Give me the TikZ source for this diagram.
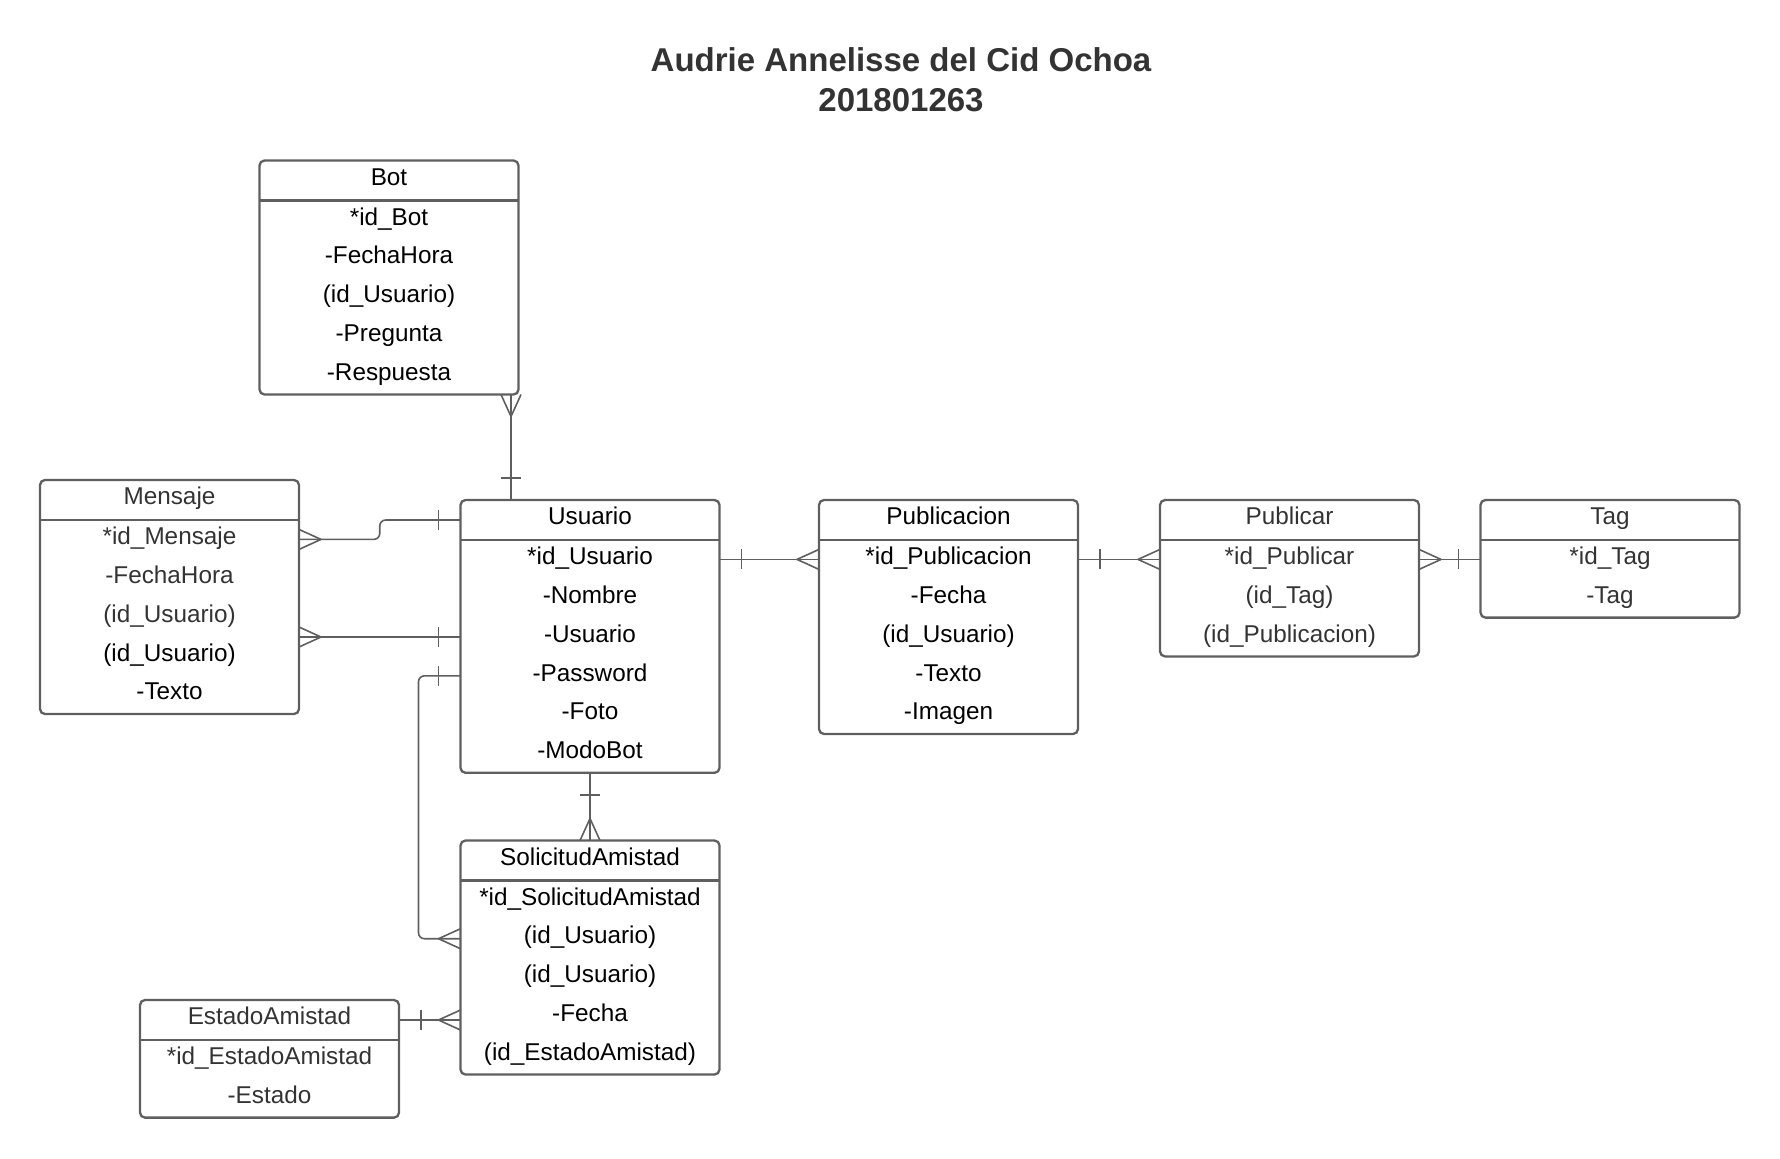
\documentclass[tikz,border=0pt]{standalone}
\usepackage{fontspec}
\setmainfont{Liberation Sans}
\usetikzlibrary{positioning, calc}
\definecolor{boxline}{HTML}{5F5F5F}
\definecolor{txtgray}{HTML}{333333}
\tikzstyle{entity}=[
  draw=boxline,
  line width=1.15pt,
  rounded corners=2.5pt,
  minimum width=129.5pt,
  inner sep=0pt,
  outer sep=0pt,
  anchor=north west
]
\tikzstyle{head}=[
  minimum width=129.5pt,
  minimum height=20pt,
  inner sep=0pt,
  outer sep=0pt,
  anchor=north west,
  text height=8.7pt,
  text depth=4.2pt,
  font={\fontsize{12.15}{14}\selectfont}
]
\tikzstyle{row}=[
  inner sep=0pt,
  text height=8.7pt,
  text depth=3.5pt,
  font={\fontsize{12.15}{14}\selectfont}
]
\tikzstyle{divider}=[draw=boxline, line width=1.15pt]
\tikzstyle{conn}=[draw=boxline, line width=0.8pt]
\tikzset{
  many/.pic={\draw[conn] (22,0) -- (0,10) (22,0) -- (0,-10);},
  one/.pic={\draw[conn] (22,-10) -- (22,10);}
}

\begin{document}
\begin{tikzpicture}[x=0.5pt, y=-0.5pt]

\useasboundingbox (0,0) rectangle (1780,1158);

\newcommand\RH{38.8}

\node[align=center, text=txtgray, font={\fontsize{16.5}{20}\selectfont\bfseries}] (titulo) at (901,80)
  {Audrie Annelisse del Cid Ochoa\\201801263};

%% Bot
\node[entity, minimum height=117pt] (bot) at (259.5,160.5) {};
\node[head] (bot-h) at (bot.north west) {Bot};
\draw[divider] (bot-h.south west) -- (bot-h.south east);
\foreach \t [count=\i] in {*id\_Bot, -FechaHora, (id\_Usuario), -Pregunta, -Respuesta}
  \node[row] (bot-\i) at ($(bot-h.south)+(0,{(\i-0.5)*\RH})$) {\t};

%% Mensaje
\node[entity, minimum height=117pt] (mensaje) at (40,480) {};
\node[head, text=txtgray] (mensaje-h) at (mensaje.north west) {Mensaje};
\draw[divider] (mensaje-h.south west) -- (mensaje-h.south east);
\foreach \t/\c [count=\i] in {*id\_Mensaje/txtgray, -FechaHora/txtgray, (id\_Usuario)/txtgray, (id\_Usuario)/black, -Texto/black}
  \node[row, text=\c] (mensaje-\i) at ($(mensaje-h.south)+(0,{(\i-0.5)*\RH})$) {\t};

%% Usuario
\node[entity, minimum height=136.4pt] (usuario) at (460.5,500) {};
\node[head] (usuario-h) at (usuario.north west) {Usuario};
\draw[divider] (usuario-h.south west) -- (usuario-h.south east);
\foreach \t [count=\i] in {*id\_Usuario, -Nombre, -Usuario, -Password, -Foto, -ModoBot}
  \node[row] (usuario-\i) at ($(usuario-h.south)+(0,{(\i-0.5)*\RH})$) {\t};

%% Publicacion
\node[entity, minimum height=117pt] (publicacion) at (819,500) {};
\node[head] (publicacion-h) at (publicacion.north west) {Publicacion};
\draw[divider] (publicacion-h.south west) -- (publicacion-h.south east);
\foreach \t [count=\i] in {*id\_Publicacion, -Fecha, (id\_Usuario), -Texto, -Imagen}
  \node[row] (publicacion-\i) at ($(publicacion-h.south)+(0,{(\i-0.5)*\RH})$) {\t};

%% Publicar
\node[entity, minimum height=78.2pt] (publicar) at (1160,500) {};
\node[head, text=txtgray] (publicar-h) at (publicar.north west) {Publicar};
\draw[divider] (publicar-h.south west) -- (publicar-h.south east);
\foreach \t [count=\i] in {*id\_Publicar, (id\_Tag), (id\_Publicacion)}
  \node[row, text=txtgray] (publicar-\i) at ($(publicar-h.south)+(0,{(\i-0.5)*\RH})$) {\t};

%% Tag
\node[entity, minimum height=58.8pt] (tag) at (1480.5,500) {};
\node[head, text=txtgray] (tag-h) at (tag.north west) {Tag};
\draw[divider] (tag-h.south west) -- (tag-h.south east);
\foreach \t [count=\i] in {*id\_Tag, -Tag}
  \node[row, text=txtgray] (tag-\i) at ($(tag-h.south)+(0,{(\i-0.5)*\RH})$) {\t};

%% SolicitudAmistad
\node[entity, minimum height=117pt] (solicitud) at (460.5,840.5) {};
\node[head] (solicitud-h) at (solicitud.north west) {SolicitudAmistad};
\draw[divider] (solicitud-h.south west) -- (solicitud-h.south east);
\foreach \t [count=\i] in {*id\_SolicitudAmistad, (id\_Usuario), (id\_Usuario), -Fecha, (id\_EstadoAmistad)}
  \node[row] (solicitud-\i) at ($(solicitud-h.south)+(0,{(\i-0.5)*\RH})$) {\t};

%% EstadoAmistad
\node[entity, minimum height=58.8pt] (estado) at (140,1000) {};
\node[head, text=txtgray] (estado-h) at (estado.north west) {EstadoAmistad};
\draw[divider] (estado-h.south west) -- (estado-h.south east);
\foreach \t [count=\i] in {*id\_EstadoAmistad, -Estado}
  \node[row, text=txtgray] (estado-\i) at ($(estado-h.south)+(0,{(\i-0.5)*\RH})$) {\t};

%% relaciones
\coordinate (bu) at ($(bot.south east)+(-7.5,0)$);
\draw[conn] (bu) -- (bu |- usuario.north);
\path (bu) pic[rotate=-90]{many};
\path (bu |- usuario.north) pic[rotate=90]{one};

\coordinate (mu) at ($(mensaje.east)!.5!(usuario.west)$);
\draw[conn, rounded corners=3pt] (mensaje.east |- mensaje-1) -| (mu |- usuario-h) -- (usuario.west |- usuario-h);
\path (mensaje.east |- mensaje-1) pic{many};
\path (usuario.west |- usuario-h) pic[rotate=180]{one};

\draw[conn] (mensaje.east |- usuario-3) -- (usuario.west |- usuario-3);
\path (mensaje.east |- usuario-3) pic{many};
\path (usuario.west |- usuario-3) pic[rotate=180]{one};

\coordinate (su) at ($(usuario.west)+(-42,0)$);
\draw[conn, rounded corners=3pt] (usuario.west |- usuario-4) -| (su |- solicitud-2) -- (solicitud.west |- solicitud-2);
\path (usuario.west |- usuario-4) pic[rotate=180]{one};
\path (solicitud.west |- solicitud-2) pic[rotate=180]{many};

\draw[conn] (usuario.south) -- (solicitud.north);
\path (usuario.south) pic[rotate=-90]{one};
\path (solicitud.north) pic[rotate=90]{many};

\draw[conn] (usuario.east |- usuario-1) -- (publicacion.west |- usuario-1);
\path (usuario.east |- usuario-1) pic{one};
\path (publicacion.west |- usuario-1) pic[rotate=180]{many};

\draw[conn] (publicacion.east |- usuario-1) -- (publicar.west |- usuario-1);
\path (publicacion.east |- usuario-1) pic{one};
\path (publicar.west |- usuario-1) pic[rotate=180]{many};

\draw[conn] (publicar.east |- usuario-1) -- (tag.west |- usuario-1);
\path (publicar.east |- usuario-1) pic{many};
\path (tag.west |- usuario-1) pic[rotate=180]{one};

\draw[conn] (estado.east |- estado-h) -- (solicitud.west |- estado-h);
\path (estado.east |- estado-h) pic{one};
\path (solicitud.west |- estado-h) pic[rotate=180]{many};

\end{tikzpicture}
\end{document}
